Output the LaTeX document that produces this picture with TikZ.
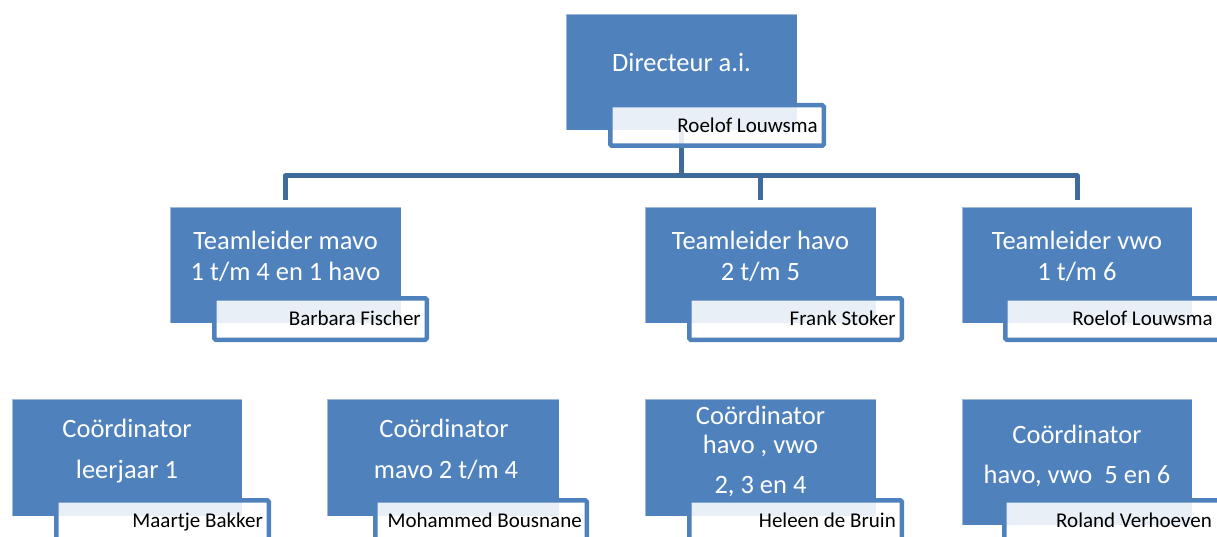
\documentclass[tikz,border=0pt]{standalone}
\usepackage{fontspec}
\setmainfont{Carlito}
\usetikzlibrary{backgrounds}
\definecolor{boxblue}{RGB}{79,129,189}
\definecolor{linkblue}{RGB}{62,106,156}
\tikzset{
  mainbox/.style={rectangle, fill=boxblue, draw=white, draw opacity=0.45, line width=0.8pt,
    anchor=north west, inner sep=0pt, outer sep=0pt},
  namebox/.style={rectangle, fill=white, fill opacity=0.88, draw=boxblue, line width=4.5pt,
    rounded corners=1.5pt, anchor=north west, inner sep=0pt, outer sep=0pt},
  boxtext/.style={anchor=base, inner sep=0pt, text=white, font=\fontsize{26.5}{31}\selectfont},
  nametext/.style={anchor=base east, inner sep=0pt, text=black, font=\fontsize{21}{25}\selectfont},
  link/.style={draw=linkblue, line width=5pt, line join=round}
}
\begin{document}
\begin{tikzpicture}[x=1pt, y=-1pt]
\useasboundingbox (0,0) rectangle (1217,537);
% main boxes
\node[mainbox, minimum width=231pt, minimum height=116pt] (dir) at (566,14) {};
\node[mainbox, minimum width=231pt, minimum height=116pt] (mavo) at (170,207) {};
\node[mainbox, minimum width=231pt, minimum height=116pt] (havo) at (645,207) {};
\node[mainbox, minimum width=230pt, minimum height=116pt] (vwo) at (962,207) {};
\node[mainbox, minimum width=230pt, minimum height=117pt] (c1) at (12,399) {};
\node[mainbox, minimum width=232pt, minimum height=117pt] (c2) at (327,399) {};
\node[mainbox, minimum width=231pt, minimum height=117pt] (c3) at (645,399) {};
\node[mainbox, minimum width=230pt, minimum height=126pt] (c4) at (962,399) {};
% main texts
\node[boxtext] (dirT) at (681.5,72) {Directeur a.i.};
\node[boxtext] (mavoT1) at (285.5,250) {Teamleider mavo};
\node[boxtext] (mavoT2) at (285.5,280) {1 t/m 4 en 1 havo};
\node[boxtext] (havoT1) at (760.5,250) {Teamleider havo};
\node[boxtext] (havoT2) at (760.5,280) {2 t/m 5};
\node[boxtext] (vwoT1) at (1077,250) {Teamleider vwo};
\node[boxtext] (vwoT2) at (1077,280) {1 t/m 6};
\node[boxtext] (c1T1) at (127,437.5) {Coördinator};
\node[boxtext] (c1T2) at (127,478) {leerjaar 1};
\node[boxtext] (c2T1) at (444,437.5) {Coördinator};
\node[boxtext] (c2T2) at (446,478) {mavo 2 t/m 4};
\node[boxtext] (c3T1) at (760.5,424) {Coördinator};
\node[boxtext] (c3T2) at (760.5,453) {havo , vwo};
\node[boxtext] (c3T3) at (760.5,493) {2, 3 en 4};
\node[boxtext] (c4T1) at (1077,443) {Coördinator};
\node[boxtext] (c4T2) at (1077,483) {havo, vwo\ \ 5 en 6};
% name boxes
\node[namebox, minimum width=213.5pt, minimum height=40.5pt] (dirN) at (610.25,105.25) {};
\node[namebox, minimum width=212.5pt, minimum height=41.5pt] (mavoN) at (214.25,298.25) {};
\node[namebox, minimum width=212.5pt, minimum height=41.5pt] (havoN) at (689.25,298.25) {};
\node[namebox, minimum width=214.5pt, minimum height=41.5pt] (vwoN) at (1005.25,298.25) {};
\node[namebox, minimum width=212.5pt, minimum height=42.5pt] (c1N) at (56.25,500.25) {};
\node[namebox, minimum width=211.5pt, minimum height=42.5pt] (c2N) at (375.25,500.25) {};
\node[namebox, minimum width=212.5pt, minimum height=42.5pt] (c3N) at (689.25,500.25) {};
\node[namebox, minimum width=215.5pt, minimum height=42.5pt] (c4N) at (1004.25,500.25) {};
% name texts
\node[nametext] (dirNT) at (818,132.5) {Roelof Louwsma};
\node[nametext] (mavoNT) at (421,325.5) {Barbara Fischer};
\node[nametext] (havoNT) at (896,325.5) {Frank Stoker};
\node[nametext] (vwoNT) at (1213,325.5) {Roelof Louwsma};
\node[nametext] (c1NT) at (263,527.5) {Maartje Bakker};
\node[nametext] (c2NT) at (582,527.5) {Mohammed Bousnane};
\node[nametext] (c3NT) at (896,527.5) {Heleen de Bruin};
\node[nametext] (c4NT) at (1212,527.5) {Roland Verhoeven};
% connectors
\coordinate (hy) at (0,176);
\coordinate (hub) at (dir.south |- hy);
\begin{scope}[on background layer]
\draw[link] (dir.south) -- (hub);
\draw[link] ([yshift=7pt]mavo.north) -- (mavo.north |- hub) -- (vwo.north |- hub) -- ([yshift=7pt]vwo.north);
\draw[link] (havo.north |- hub) -- ([yshift=7pt]havo.north);
\end{scope}
\end{tikzpicture}
\end{document}
